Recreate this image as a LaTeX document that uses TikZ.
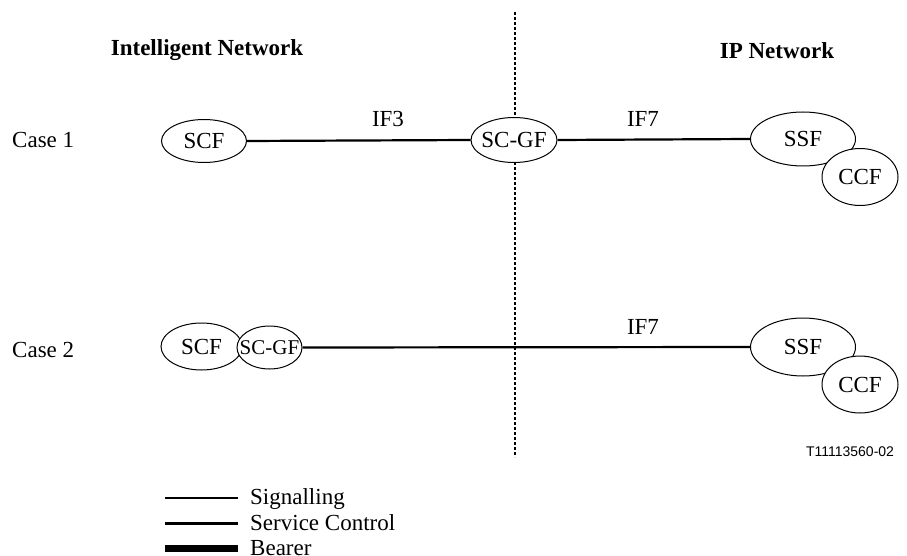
\documentclass[tikz,border=0pt]{standalone}
\usepackage{fontspec}
\setmainfont{Liberation Serif}
\newfontfamily\labelsans{Liberation Sans}
\usetikzlibrary{shapes.geometric}
\newcommand{\fnlabel}[1]{\makebox[0pt][c]{#1}}
\begin{document}
\begin{tikzpicture}[x=1pt,y=-1pt,
  fn/.style={ellipse,draw,fill=white,line width=1pt,inner sep=0pt,font=\fontsize{23}{25}\selectfont},
  lbl/.style={inner sep=0pt,anchor=base,font=\fontsize{23}{25}\selectfont},
  head/.style={inner sep=0pt,anchor=base,font=\bfseries\fontsize{23}{25}\selectfont},
  conn/.style={line width=2.2pt},
  divider/.style={line width=1.4pt,dash pattern=on 3pt off 2pt}]
\useasboundingbox (0,0) rectangle (907,556);
% divider
\coordinate (dtop) at (515,12);
\coordinate (dbot) at (515,457);
\draw[divider] (dtop) -- (dbot);
% headings
\node[head] (hin) at (207,56) {Intelligent Network};
\node[head] (hip) at (777,59) {IP Network};
\node[lbl,anchor=base west] (c1) at (12,148) {Case 1};
\node[lbl,anchor=base west] (c2) at (12,357) {Case 2};
% case 1
\node[fn,minimum width=85pt,minimum height=43pt] (scf1) at (204,141) {\fnlabel{SCF}};
\node[fn,minimum width=86pt,minimum height=45pt] (scgf1) at (514,140) {\fnlabel{SC-GF}};
\node[fn,minimum width=105pt,minimum height=54pt] (ssf1) at (803,139) {\fnlabel{SSF}};
\node[fn,minimum width=76pt,minimum height=57pt] (ccf1) at (860,177) {\fnlabel{CCF}};
\draw[conn] (scf1.east) -- (scgf1.west);
\draw[conn] (scgf1.east) -- (ssf1.west);
\node[lbl] (if3) at (388,127) {IF3};
\node[lbl] (if7a) at (643,127) {IF7};
% case 2
\node[fn,minimum width=81pt,minimum height=47pt] (scf2) at (201.5,346.5) {\fnlabel{SCF}};
\node[fn,minimum width=65pt,minimum height=43pt,font=\fontsize{21}{23}\selectfont] (scgf2) at (269.5,347.5) {\fnlabel{SC-GF}};
\node[fn,minimum width=105pt,minimum height=58pt] (ssf2) at (803,347) {\fnlabel{SSF}};
\node[fn,minimum width=76pt,minimum height=57pt] (ccf2) at (860,384.5) {\fnlabel{CCF}};
\draw[conn] (scgf2.east) -- (ssf2.west);
\node[lbl] (if7b) at (643,334) {IF7};
% figure id
\node[inner sep=0pt,font=\labelsans\fontsize{14}{16}\selectfont] (fid) at (850,452) {T11113560-02};
% legend
\coordinate (l1a) at (165,498); \coordinate (l1b) at (238,498);
\coordinate (l2a) at (165,523); \coordinate (l2b) at (238,523);
\coordinate (l3a) at (165,548); \coordinate (l3b) at (238,548);
\draw[line width=1.5pt] (l1a) -- (l1b);
\draw[line width=3pt] (l2a) -- (l2b);
\draw[line width=7pt] (l3a) -- (l3b);
\node[lbl,anchor=base west] (t1) at (250,504) {Signalling};
\node[lbl,anchor=base west] (t2) at (250,530) {Service Control};
\node[lbl,anchor=base west] (t3) at (250,555) {Bearer};
\end{tikzpicture}
\end{document}
